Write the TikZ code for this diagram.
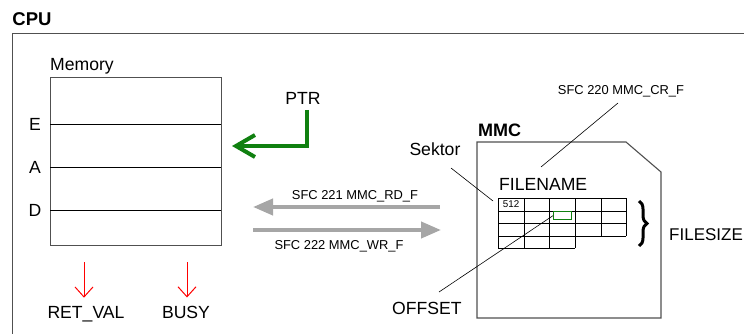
\documentclass[tikz,border=0pt]{standalone}
\usepackage{fontspec}
\setmainfont{Liberation Sans}
\usetikzlibrary{arrows.meta,decorations.pathreplacing}
\definecolor{ptrgreen}{RGB}{16,128,16}
\definecolor{arrgray}{RGB}{166,166,166}
\definecolor{frame}{RGB}{80,80,80}
\begin{document}
\begin{tikzpicture}[x=1pt,y=-1pt,
  txt/.style={inner sep=0pt,anchor=base west,font=\fontsize{17.6}{20}\selectfont},
  small/.style={inner sep=0pt,anchor=base west,font=\fontsize{12.9}{15}\selectfont},
  ttl/.style={inner sep=0pt,anchor=base west,font=\fontsize{18.5}{21}\selectfont\bfseries},
  thin/.style={line width=0.9pt,black},
  redarrow/.style={red,line width=1pt,-{Straight Barb[length=10pt,width=18pt]}},
  grayarrow/.style={arrgray,line width=4pt,-{Triangle[length=20pt,width=16pt]}},
  greenarrow/.style={ptrgreen,line width=4pt,-{Straight Barb[length=19pt,width=22pt]}}]
\useasboundingbox (0,0) rectangle (744,334);
% CPU frame
\node[ttl] (cpu) at (12.3,26) {CPU};
\draw[frame,line width=1pt] (12,334) -- (12,33.5) -- (744,33.5);
% Memory
\node[txt] (memlbl) at (50,70.7) {Memory};
\node[draw=frame,line width=1pt,minimum width=171pt,minimum height=168pt,anchor=north west,inner sep=0pt] (mem) at (50,77) {};
\draw[thin] (50,124) -- (221,124);
\draw[thin] (50,167) -- (221,167);
\draw[thin] (50,210) -- (221,210);
\node[txt,anchor=base] (e) at (35,131) {E};
\node[txt,anchor=base] (a) at (35,173) {A};
\node[txt,anchor=base] (d) at (35,216) {D};
% PTR
\node[txt,anchor=base] (ptr) at (303,104.3) {PTR};
\coordinate (ptrs) at (307,110);
\coordinate (memin) at (232,146);
\draw[greenarrow] (ptrs) |- (memin);
% RET_VAL, BUSY
\node[txt,anchor=base] (retval) at (86,318) {RET\_VAL};
\node[txt,anchor=base] (busy) at (186,318) {BUSY};
\coordinate (r1) at (84,262);
\coordinate (r2) at (187,262);
\draw[redarrow,shorten >=8pt] (r1) -- (r1 |- retval.north);
\draw[redarrow,shorten >=8pt] (r2) -- (r2 |- busy.north);
% SFC arrows
\node[small] (rd) at (291.7,199) {SFC 221 MMC\_RD\_F};
\node[small] (wr) at (274.3,249) {SFC 222 MMC\_WR\_F};
\coordinate (rdA) at (440,207);
\coordinate (rdB) at (253,207);
\coordinate (wrA) at (253,230);
\coordinate (wrB) at (441,230);
\draw[grayarrow] (rdA) -- (rdB);
\draw[grayarrow] (wrA) -- (wrB);
% MMC
\node[ttl,font=\fontsize{18}{21}\selectfont\bfseries] (mmc) at (478,136) {MMC};
\draw[frame,line width=1.1pt] (477,142) -- (626,142) -- (661,172) -- (661,318) -- (477,318) -- cycle;
\node[txt] (fname) at (499,190) {FILENAME};
% grid
\foreach \y in {198,211,223,236} \draw[thin] (498,\y) -- (626,\y);
\draw[thin] (498,248) -- (575,248);
\foreach \x in {498,524,549,575} \draw[thin] (\x,198) -- (\x,248);
\foreach \x in {601,626} \draw[thin] (\x,198) -- (\x,236);
\node[inner sep=0pt,anchor=base west,font=\fontsize{9.8}{11}\selectfont] (s512) at (502.7,207.7) {512};
\node[draw=ptrgreen,line width=1.3pt,inner sep=0pt,minimum width=18pt,minimum height=8pt,anchor=north west] (off) at (553,211) {};
% labels with leader lines
\node[txt] (sektor) at (409.3,156) {Sektor};
\coordinate (sekA) at (451,168);
\coordinate (sekB) at (493,201);
\draw[line width=0.6pt] (sekA) -- (sekB);
\node[small] (cr) at (557.7,95) {SFC 220 MMC\_CR\_F};
\coordinate (crA) at (618,103);
\coordinate (crB) at (541,167);
\draw[line width=0.6pt] (crA) -- (crB);
\node[txt] (offset) at (392,314.3) {OFFSET};
\coordinate (offA) at (439,292);
\draw[line width=0.6pt] (offA) -- (off.west);
% brace
\draw[line width=3pt,decorate,decoration={brace,amplitude=8pt,aspect=0.5}] (639,201) -- (639,246);
\node[txt,font=\fontsize{17}{20}\selectfont] (fsize) at (669,240) {FILESIZE};
\end{tikzpicture}
\end{document}
